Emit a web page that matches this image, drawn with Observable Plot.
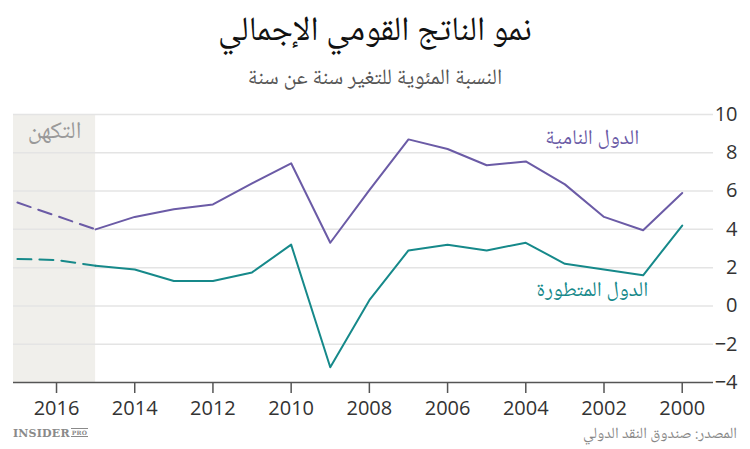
<!DOCTYPE html>
<html><head><meta charset="utf-8">
<script src="https://cdn.jsdelivr.net/npm/d3@7"></script>
<script src="https://cdn.jsdelivr.net/npm/@observablehq/plot@0.6"></script>
<style>
body{margin:0;background:#fff;width:750px;height:449px;overflow:hidden;position:relative;font-family:"Open Sans",sans-serif}
.ar{font-family:"Noto Naskh Arabic","Noto Sans Arabic","DejaVu Sans",sans-serif}
#title{position:absolute;top:10px;left:0;width:750px;text-align:center;font-size:34px;line-height:46px;color:#111}
#subtitle{position:absolute;top:65px;left:0;width:750px;text-align:center;font-size:22px;line-height:28px;color:#555}
#chart{position:absolute;top:100px;left:0}
#logo{position:absolute;top:427px;left:13px;font-family:"DejaVu Serif","Liberation Serif",serif;font-weight:bold;font-size:11px;color:#8a8a8a;letter-spacing:0.2px}
#logo span{font-size:6px;border-top:1px solid #8a8a8a;border-bottom:1px solid #8a8a8a;padding:0 1px;vertical-align:2px;margin-left:1px}
#source{position:absolute;top:424px;right:13px;font-size:15.5px;line-height:22px;color:#888;direction:rtl}
</style></head>
<body>
<div id="title" class="ar">نمو الناتج القومي الإجمالي</div>
<div id="subtitle" class="ar">النسبة المئوية للتغير سنة عن سنة</div>
<div id="chart"></div>
<div id="logo">INSIDER<span>PRO</span></div>
<div id="source" class="ar">المصدر: صندوق النقد الدولي</div>
<script>
const years =      [2017, 2016, 2015, 2014, 2013, 2012, 2011, 2010, 2009, 2008, 2007, 2006, 2005, 2004, 2003, 2002, 2001, 2000];
const developing = [5.4,  4.7,  4.0,  4.65, 5.05, 5.3,  6.4,  7.45, 3.3,  6.05, 8.7,  8.2,  7.35, 7.55, 6.35, 4.65, 3.95, 5.9];
const developed =  [2.45, 2.4,  2.1,  1.9,  1.3,  1.3,  1.75, 3.2, -3.2,  0.3,  2.9,  3.2,  2.9,  3.3,  2.2,  1.9,  1.6,  4.2];
const lastActualYear = 2015;
const xTicks = [2016, 2014, 2012, 2010, 2008, 2006, 2004, 2002, 2000];
const yTicks = [-4, -2, 0, 2, 4, 6, 8, 10];
const xDomain = [2017.1, 1999.2];
const yDomain = [-4, 10];
const seriesNames = ["الدول النامية", "الدول المتطورة"];
const colors = ["#6b5ba6", "#16898a"];
const forecastLabel = "التكهن";
const labelPos = [{x: 2002.3, y: 8.8}, {x: 2002.3, y: 0.85}];
const forecastLabelPos = {x: 2016.05, y: 9.2};

const rows = [];
years.forEach((yr, i) => {
  rows.push({year: yr, value: developing[i], s: 0});
  rows.push({year: yr, value: developed[i], s: 1});
});
const actual = rows.filter(d => d.year <= lastActualYear);
const forecast = rows.filter(d => d.year >= lastActualYear);
const arFont = '"Noto Naskh Arabic","Noto Sans Arabic","DejaVu Sans",sans-serif';

const chart = Plot.plot({
  width: 750, height: 325,
  marginTop: 14, marginBottom: 43, marginLeft: 13, marginRight: 37,
  x: {domain: xDomain},
  y: {domain: yDomain},
  style: {fontFamily: '"Open Sans",sans-serif', fontSize: "20px", color: "#333", background: "#fff", overflow: "visible"},
  marks: [
    Plot.rect([{x1: xDomain[0], x2: lastActualYear}], {x1: "x1", x2: "x2", y1: yDomain[0], y2: yDomain[1], fill: "#f0efeb"}),
    Plot.gridY(yTicks.filter(t => t > yDomain[0]), {stroke: "#e4e4e4", strokeOpacity: 1, strokeWidth: 1.5}),
    Plot.axisY(yTicks, {anchor: "right", tickSize: 0, tickPadding: 24, textAnchor: "end", label: null, fill: "#333"}),
    Plot.axisX(xTicks, {anchor: "bottom", tickSize: 11, tickPadding: 7, label: null, tickFormat: d => String(d), stroke: "#555", strokeWidth: 1.5, fill: "#333"}),
    Plot.ruleY([yDomain[0]], {stroke: "#555", strokeWidth: 1.5}),
    Plot.line(forecast, {x: "year", y: "value", z: "s", stroke: d => colors[d.s], strokeWidth: 2, strokeDasharray: "14,8"}),
    Plot.line(actual, {x: "year", y: "value", z: "s", stroke: d => colors[d.s], strokeWidth: 2}),
    Plot.text(labelPos, {x: "x", y: "y", text: (d, i) => seriesNames[i], fill: (d, i) => colors[i], fontSize: 21, fontFamily: arFont}),
    Plot.text([forecastLabelPos], {x: "x", y: "y", text: () => forecastLabel, fill: "#999", fontSize: 24, fontFamily: arFont})
  ]
});
document.getElementById("chart").appendChild(chart);
</script>
</body></html>
